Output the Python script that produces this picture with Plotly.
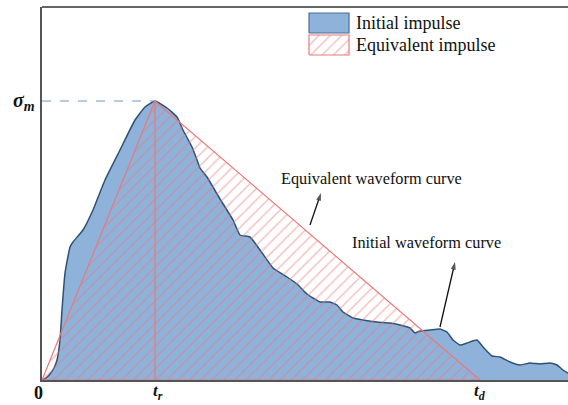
import plotly.graph_objects as go

# Initial waveform (time, stress)
t_init = [0, 0.4, 0.8, 1.2, 1.5, 1.8, 2.0, 2.3, 2.8, 3.1, 4.1, 5.1, 6.3, 7.8, 9.3, 10.3, 11.3,
          12.5, 13.5, 14.1, 15.0, 15.5, 15.8, 16.5, 17.1, 17.8, 19.1, 19.8, 20.8, 21.8, 23.1,
          24.5, 25.5, 26.5, 27.1, 27.8, 28.8, 29.5, 30.1, 31.1, 32.1, 33.5, 34.8, 35.8, 36.8,
          37.3, 37.8, 38.8, 39.8, 40.5, 41.1, 41.8, 42.5, 43.5, 44.1, 45.0, 45.8, 46.8, 47.8,
          48.8, 49.8, 50.8, 51.5, 52.1, 52.6]
s_init = [0, 0.2, 0.6, 1.2, 2.0, 4.0, 7.0, 10.7, 13.3, 13.8, 15.0, 17.0, 20.0, 23.0, 26.0, 27.3, 27.9,
          27.2, 26.3, 25.0, 23.3, 22.0, 21.2, 20.3, 19.3, 18.1, 16.0, 14.5, 14.3, 13.0, 11.2,
          10.3, 9.6, 8.6, 8.2, 7.8, 7.8, 7.5, 6.8, 6.2, 6.0, 5.8, 5.7, 5.5, 5.2,
          4.7, 4.9, 5.0, 5.1, 4.8, 4.0, 3.5, 3.7, 4.0, 3.3, 2.4, 2.3, 1.8, 1.5,
          1.7, 1.6, 1.7, 1.5, 1.0, 0.7]

# Equivalent triangular waveform
t_r = 11.3
t_d = 43.8
sigma_m = 27.9
t_equiv = [0, t_r, t_d]
s_equiv = [0, sigma_m, 0]

# Pointer arrows (tail -> head)
arrow1_x = [26.8, 27.9]
arrow1_y = [15.5, 18.7]
arrow2_x = [39.8, 41.3]
arrow2_y = [5.3, 11.8]

X_MAX = 52.6
Y_MAX = 37.3

BLUE_FILL = "#8EB2DA"
BLUE_LINE = "#2E5274"
RED = "#E77A7A"
SERIF = "Liberation Serif, Times New Roman, serif"

fig = go.Figure()

# initial impulse
fig.add_trace(go.Scatter(x=t_init, y=s_init, mode="lines", fill="tozeroy",
                         fillcolor=BLUE_FILL, line=dict(color=BLUE_LINE, width=1.5, shape="spline", smoothing=0.4),
                         hoverinfo="skip", showlegend=False))

# equivalent impulse (hatched triangle)
fig.add_trace(go.Scatter(x=t_equiv + [t_equiv[0]], y=s_equiv + [s_equiv[0]], mode="lines",
                         fill="toself", fillcolor="rgba(0,0,0,0)",
                         fillpattern=dict(shape="/", fgcolor=RED, bgcolor="rgba(0,0,0,0)",
                                          size=8, solidity=0.17),
                         line=dict(color=RED, width=1.2), hoverinfo="skip", showlegend=False))

# vertical at t_r
fig.add_trace(go.Scatter(x=[t_r, t_r], y=[0, sigma_m], mode="lines",
                         line=dict(color=RED, width=1.2), hoverinfo="skip", showlegend=False))

# dashed sigma_m reference
fig.add_trace(go.Scatter(x=[0, t_r], y=[sigma_m, sigma_m], mode="lines",
                         line=dict(color="#6A9AD0", width=1.2, dash="dash"),
                         hoverinfo="skip", showlegend=False))

# pointer arrows
for ax_, ay_ in [(arrow1_x, arrow1_y), (arrow2_x, arrow2_y)]:
    fig.add_trace(go.Scatter(x=ax_, y=ay_, mode="lines+markers",
                             line=dict(color="#111", width=1.3),
                             marker=dict(symbol=["circle", "arrow"], size=[0, 8], color="#111",
                                         angleref="previous", line=dict(width=0)),
                             hoverinfo="skip", showlegend=False))

# manual legend boxes
leg_x = [26.7, 30.7]
leg1_y = [34.7, 36.7]
leg2_y = [32.5, 34.5]
fig.add_trace(go.Scatter(x=[leg_x[0], leg_x[1], leg_x[1], leg_x[0], leg_x[0]],
                         y=[leg1_y[0], leg1_y[0], leg1_y[1], leg1_y[1], leg1_y[0]],
                         mode="lines", fill="toself", fillcolor=BLUE_FILL,
                         line=dict(color="#4A6F94", width=1.2), hoverinfo="skip", showlegend=False))
fig.add_trace(go.Scatter(x=[leg_x[0], leg_x[1], leg_x[1], leg_x[0], leg_x[0]],
                         y=[leg2_y[0], leg2_y[0], leg2_y[1], leg2_y[1], leg2_y[0]],
                         mode="lines", fill="toself", fillcolor="rgba(0,0,0,0)",
                         fillpattern=dict(shape="/", fgcolor=RED, bgcolor="rgba(0,0,0,0)",
                                          size=8, solidity=0.17),
                         line=dict(color=RED, width=1.2), hoverinfo="skip", showlegend=False))

annotations = [
    dict(x=31.2, y=35.7, text="Initial impulse", xanchor="left", yanchor="middle",
         showarrow=False, font=dict(family=SERIF, size=18, color="#111")),
    dict(x=31.2, y=33.5, text="Equivalent impulse", xanchor="left", yanchor="middle",
         showarrow=False, font=dict(family=SERIF, size=18, color="#111")),
    dict(x=32.9, y=20.2, text="Equivalent waveform curve", xanchor="center", yanchor="middle",
         showarrow=False, font=dict(family=SERIF, size=16.3, color="#111")),
    dict(x=38.4, y=13.8, text="Initial waveform curve", xanchor="center", yanchor="middle",
         showarrow=False, font=dict(family=SERIF, size=16.3, color="#111")),
    dict(x=0, y=sigma_m, xref="x", yref="y", xshift=-18, text="<b><i>σ</i></b><sub><b><i>m</i></b></sub>",
         xanchor="center", yanchor="middle", showarrow=False,
         font=dict(family=SERIF, size=20, color="#111")),
    dict(x=0, y=0, yshift=-13, xshift=-4, text="<b>0</b>", xanchor="center", yanchor="middle",
         showarrow=False, font=dict(family=SERIF, size=18, color="#111")),
    dict(x=t_r, y=0, yshift=-12, xshift=3, text="<b><i>t</i></b><sub><b><i>r</i></b></sub>",
         xanchor="center", yanchor="middle", showarrow=False,
         font=dict(family=SERIF, size=17, color="#111")),
    dict(x=t_d, y=0, yshift=-12, xshift=0, text="<b><i>t</i></b><sub><b><i>d</i></b></sub>",
         xanchor="center", yanchor="middle", showarrow=False,
         font=dict(family=SERIF, size=17, color="#111")),
]

fig.update_layout(
    width=568, height=405,
    margin=dict(l=42, r=0, t=7, b=25),
    paper_bgcolor="white", plot_bgcolor="white",
    xaxis=dict(range=[0, X_MAX], showgrid=False, zeroline=False, showticklabels=False,
               ticks="", showline=True, linecolor="#555", linewidth=2),
    yaxis=dict(range=[0, Y_MAX], showgrid=False, zeroline=False, showticklabels=False,
               ticks="", showline=True, linecolor="#555", linewidth=2),
    annotations=annotations,
    shapes=[dict(type="line", xref="paper", yref="paper", x0=0, x1=1, y0=1, y1=1,
                 line=dict(color="#333", width=1.5))],
    showlegend=False,
)

fig.write_html("out.html")
